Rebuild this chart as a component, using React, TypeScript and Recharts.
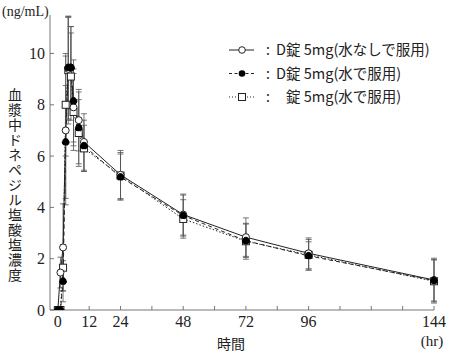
import { LineChart, Line, XAxis, YAxis, ErrorBar } from "recharts";

// sampling times (hr)
const times = [0, 1, 2, 3, 4, 5, 6, 8, 10, 24, 48, 72, 96, 144];

// D錠 5mg (水なしで服用)
const odNoWater = [0, 1.46, 2.44, 7.0, 9.4, 9.45, 7.9, 7.4, 6.55, 5.27, 3.72, 2.84, 2.21, 1.17];
const odNoWaterSd = [null, 0.6, 1.7, 2.9, 2.0, 1.6, 1.5, 1.2, 1.1, 0.95, 0.8, 0.75, 0.6, 0.85];
// D錠 5mg (水で服用)
const odWater = [0, 0, 1.12, 6.55, 9.45, 9.45, 8.15, 7.1, 6.4, 5.18, 3.68, 2.7, 2.11, 1.15];
const odWaterSd = [null, null, 0.8, 2.2, 2.0, 1.6, 1.6, 1.4, 1.0, 0.9, 0.8, 0.65, 0.55, 0.8];
// 錠 5mg (水で服用)
const tabWater = [0, 0, 1.65, 8.0, 9.35, 9.1, 7.72, 6.9, 6.3, 5.24, 3.55, 2.68, 2.15, 1.12];
const tabWaterSd = [null, null, 0.9, 2.0, 2.1, 1.7, 1.5, 1.3, 0.9, 0.9, 0.75, 0.7, 0.6, 0.85];

const xTicks = [0, 12, 24, 36, 48, 60, 72, 84, 96, 108, 120, 132, 144];
const xLabeled = [0, 12, 24, 48, 72, 96, 144];
const yTicks = [0, 2, 4, 6, 8, 10];

const yTitle = "血漿中ドネペジル塩酸塩濃度";
const legendRows = [
  { name: "D錠 5mg(水なしで服用)", indent: 0 },
  { name: "D錠 5mg(水で服用)", indent: 0 },
  { name: "錠 5mg(水で服用)", indent: 10 },
];

const data = times.map((t, i) => ({
  t,
  a: odNoWater[i],
  aErr: odNoWaterSd[i],
  b: odWater[i],
  bErr: odWaterSd[i],
  c: tabWater[i],
  cErr: tabWaterSd[i],
}));

const serif = "Liberation Serif";
const jp = "Noto Sans CJK JP";
const ink = "#222";
const errColor = "#555";

const SquareDot = (props: any) => {
  const { cx, cy, index } = props;
  if (cx == null || cy == null) return null;
  return <rect key={index} x={cx - 3.5} y={cy - 3.5} width={7} height={7} fill="#fff" stroke={ink} strokeWidth={1} />;
};

export default function App() {
  return (
    <div style={{ position: "absolute", left: 0, top: 0, width: 450, height: 351, background: "#fff", fontFamily: serif }}>
      <LineChart width={450} height={351} data={data} margin={{ top: 15, right: 16, bottom: 16, left: 0 }}>
        <XAxis
          dataKey="t"
          type="number"
          domain={[-3, 144]}
          ticks={xTicks}
          interval={0}
          tickFormatter={(v: number) => (xLabeled.includes(v) ? String(v) : "")}
          tickSize={-4}
          tickMargin={10}
          height={25}
          stroke="#777"
          tick={{ fill: "#222", fontSize: 16, style: { fontFamily: serif } }}
        />
        <YAxis
          type="number"
          domain={[0, 11.5]}
          allowDataOverflow
          ticks={yTicks}
          width={50}
          tickSize={-4}
          tickMargin={9}
          stroke="#777"
          tick={{ fill: "#222", fontSize: 16, style: { fontFamily: serif } }}
        />
        <Line
          dataKey="c"
          stroke={ink}
          strokeWidth={1}
          strokeDasharray="1.5 2"
          dot={SquareDot}
          isAnimationActive={false}
        >
          <ErrorBar dataKey="cErr" direction="y" width={3} stroke={errColor} strokeWidth={0.8} isAnimationActive={false} />
        </Line>
        <Line
          dataKey="a"
          stroke={ink}
          strokeWidth={1}
          dot={{ r: 3.5, fill: "#fff", stroke: ink, strokeWidth: 1 }}
          isAnimationActive={false}
        >
          <ErrorBar dataKey="aErr" direction="y" width={3} stroke={errColor} strokeWidth={0.8} isAnimationActive={false} />
        </Line>
        <Line
          dataKey="b"
          stroke={ink}
          strokeWidth={1}
          strokeDasharray="4 3"
          dot={{ r: 3.5, fill: "#000", stroke: "#000", strokeWidth: 1 }}
          isAnimationActive={false}
        >
          <ErrorBar dataKey="bErr" direction="y" width={3} stroke={errColor} strokeWidth={0.8} isAnimationActive={false} />
        </Line>
      </LineChart>

      <svg width={450} height={351} style={{ position: "absolute", left: 0, top: 0, pointerEvents: "none" }}>
        <text x={2} y={16} fontSize={14} style={{ fontFamily: serif }} fill="#222">(ng/mL)</text>
        <text
          x={15}
          y={88}
          fontSize={14}
          fill="#222"
          style={{ fontFamily: jp, writingMode: "vertical-rl", letterSpacing: "1px" }}
        >
          {yTitle}
        </text>
        <text x={231} y={348.5} fontSize={14} style={{ fontFamily: jp }} textAnchor="middle" fill="#222">時間</text>
        <text x={432} y={346} fontSize={15} style={{ fontFamily: serif }} textAnchor="middle" fill="#222">(hr)</text>

        {legendRows.map((row, i) => {
          const y = 50 + i * 23.5;
          return (
            <g key={i}>
              {i === 0 && <line x1={229} x2={254} y1={y} y2={y} stroke={ink} strokeWidth={1} />}
              {i === 1 && <line x1={229} x2={256} y1={y} y2={y} stroke={ink} strokeWidth={1} strokeDasharray="3 2.5" />}
              {i === 2 && <line x1={229} x2={256} y1={y} y2={y} stroke={ink} strokeWidth={1} strokeDasharray="1 2" />}
              {i === 0 && <circle cx={242} cy={y} r={3.3} fill="#fff" stroke={ink} />}
              {i === 1 && <circle cx={242} cy={y} r={3.3} fill="#000" />}
              {i === 2 && <rect x={238.5} y={y - 3.5} width={7} height={7} fill="#fff" stroke={ink} />}
              <text x={266} y={y + 5} fontSize={14} style={{ fontFamily: jp }} fill="#222">:</text>
              <text x={276 + row.indent} y={y + 5} fontSize={14.5} style={{ fontFamily: jp }} fill="#222">{row.name}</text>
            </g>
          );
        })}
      </svg>
    </div>
  );
}
